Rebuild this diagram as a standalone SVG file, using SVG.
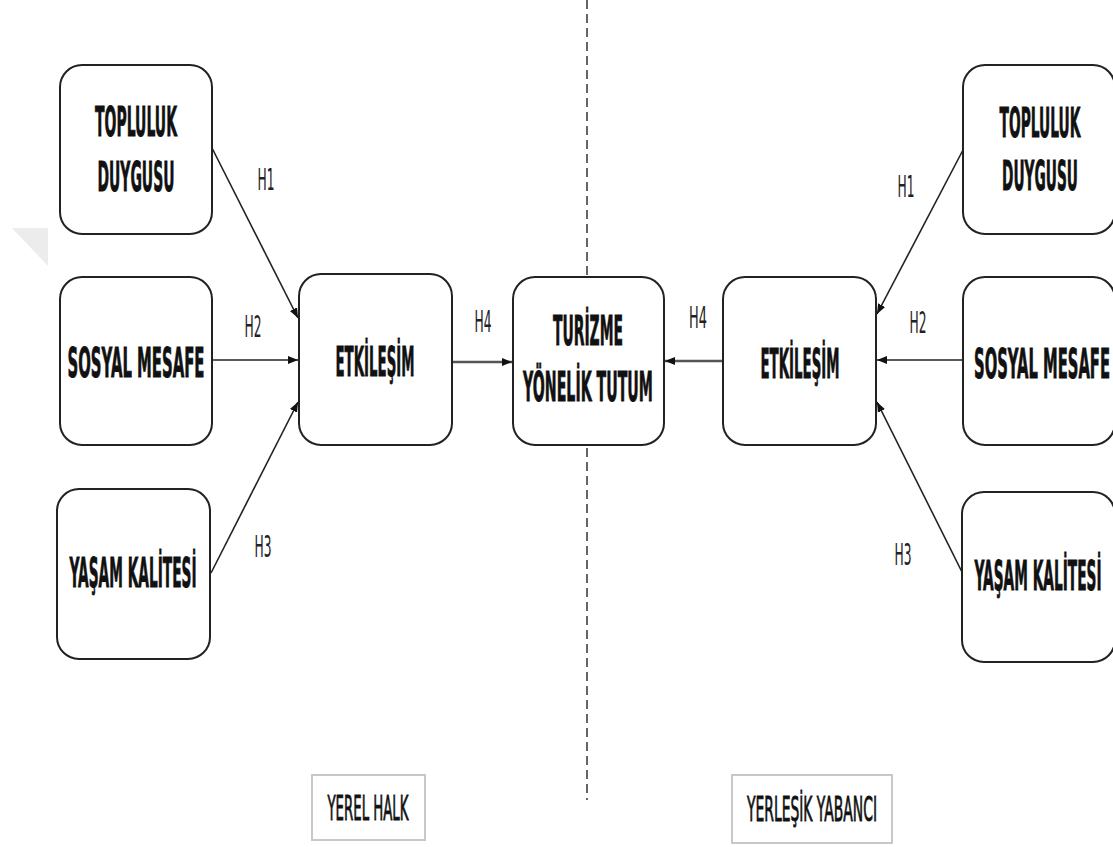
<svg xmlns="http://www.w3.org/2000/svg" width="1113" height="847" viewBox="0 0 1113 847">
<style>
.box{fill:#fff;stroke:#222;stroke-width:2}
.lbl{fill:#fff;stroke:#c8c8c8;stroke-width:2}
.t{font-family:"DejaVu Sans","Liberation Sans",sans-serif;font-weight:bold;font-size:41px;fill:#111;stroke:#111;stroke-width:0.9;text-anchor:middle}
.h{font-family:"DejaVu Sans","Liberation Sans",sans-serif;font-size:30px;fill:#222;text-anchor:middle}
.b{font-family:"DejaVu Sans","Liberation Sans",sans-serif;font-size:34px;fill:#111;stroke:#111;stroke-width:0.9;text-anchor:middle}
.c{stroke:#222;stroke-width:1.6;fill:none}
.c4{stroke:#555;stroke-width:2.6;fill:none}
</style>
<defs>
<marker id="ah" markerUnits="userSpaceOnUse" markerWidth="12" markerHeight="10" refX="10" refY="5" orient="auto">
<path d="M0,1 L10,5 L0,9 Z" fill="#111"/>
</marker>
</defs>
<rect width="1113" height="847" fill="#fff"/>
<polygon points="12,228 48,228 48,266" fill="#ececec"/>
<line x1="587" y1="0" x2="587" y2="800" stroke="#333" stroke-width="1.5" stroke-dasharray="9 5"/>
<g id="connectors">
<line class="c" x1="212" y1="148" x2="298" y2="318" marker-end="url(#ah)"/>
<line class="c" x1="212" y1="360" x2="298" y2="360" marker-end="url(#ah)"/>
<line class="c" x1="211" y1="573" x2="298" y2="402" marker-end="url(#ah)"/>
<line class="c4" x1="452" y1="362" x2="512" y2="362" marker-end="url(#ah)"/>
<line class="c" x1="963" y1="150" x2="877" y2="314" marker-end="url(#ah)"/>
<line class="c" x1="963" y1="360" x2="877" y2="360" marker-end="url(#ah)"/>
<line class="c" x1="962" y1="572" x2="877" y2="402" marker-end="url(#ah)"/>
<line class="c4" x1="723" y1="361" x2="665" y2="361" marker-end="url(#ah)"/>
<text class="h" transform="translate(266,190) scale(0.42,1)" textLength="40.5" lengthAdjust="spacingAndGlyphs">H1</text>
<text class="h" transform="translate(253,337) scale(0.42,1)" textLength="40.5" lengthAdjust="spacingAndGlyphs">H2</text>
<text class="h" transform="translate(263,557) scale(0.42,1)" textLength="40.5" lengthAdjust="spacingAndGlyphs">H3</text>
<text class="h" transform="translate(483,332) scale(0.42,1)" textLength="40.5" lengthAdjust="spacingAndGlyphs">H4</text>
<text class="h" transform="translate(698,328) scale(0.42,1)" textLength="42.8" lengthAdjust="spacingAndGlyphs">H4</text>
<text class="h" transform="translate(918,333) scale(0.42,1)" textLength="40.5" lengthAdjust="spacingAndGlyphs">H2</text>
<text class="h" transform="translate(906,197) scale(0.42,1)" textLength="40.5" lengthAdjust="spacingAndGlyphs">H1</text>
<text class="h" transform="translate(903,565) scale(0.42,1)" textLength="40.5" lengthAdjust="spacingAndGlyphs">H3</text>
</g>
<g id="l-topluluk">
<rect class="box" x="60" y="65" width="152" height="169" rx="22"/>
<text class="t" transform="translate(136,136) scale(0.32,1)" textLength="256" lengthAdjust="spacingAndGlyphs">TOPLULUK</text>
<text class="t" transform="translate(136,191) scale(0.32,1)" textLength="240.6" lengthAdjust="spacingAndGlyphs">DUYGUSU</text>
</g>
<g id="l-sosyal">
<rect class="box" x="60" y="277" width="152" height="168" rx="22"/>
<text class="t" transform="translate(136,377) scale(0.32,1)" textLength="428" lengthAdjust="spacingAndGlyphs">SOSYAL MESAFE</text>
</g>
<g id="l-yasam">
<rect class="box" x="57" y="489" width="153" height="170" rx="22"/>
<text class="t" transform="translate(133,587) scale(0.32,1)" textLength="397" lengthAdjust="spacingAndGlyphs">YAŞAM KALİTESİ</text>
</g>
<g id="l-etkilesim">
<rect class="box" x="299" y="274" width="153" height="171" rx="22"/>
<text class="t" transform="translate(375,376) scale(0.32,1)" textLength="247" lengthAdjust="spacingAndGlyphs">ETKİLEŞİM</text>
</g>
<g id="turizme">
<rect class="box" x="513" y="277" width="151" height="168" rx="22"/>
<text class="t" transform="translate(588,345) scale(0.32,1)" textLength="219" lengthAdjust="spacingAndGlyphs">TURİZME</text>
<text class="t" transform="translate(588,401) scale(0.32,1)" textLength="406" lengthAdjust="spacingAndGlyphs">YÖNELİK TUTUM</text>
</g>
<g id="r-etkilesim">
<rect class="box" x="723" y="277" width="153" height="168" rx="22"/>
<text class="t" transform="translate(800,378) scale(0.32,1)" textLength="247" lengthAdjust="spacingAndGlyphs">ETKİLEŞİM</text>
</g>
<g id="r-topluluk">
<rect class="box" x="963" y="65" width="152" height="169" rx="22"/>
<text class="t" transform="translate(1040,137) scale(0.32,1)" textLength="253" lengthAdjust="spacingAndGlyphs">TOPLULUK</text>
<text class="t" transform="translate(1040,190) scale(0.32,1)" textLength="237.5" lengthAdjust="spacingAndGlyphs">DUYGUSU</text>
</g>
<g id="r-sosyal">
<rect class="box" x="963" y="277" width="152" height="168" rx="22"/>
<text class="t" transform="translate(1042,378) scale(0.32,1)" textLength="425" lengthAdjust="spacingAndGlyphs">SOSYAL MESAFE</text>
</g>
<g id="r-yasam">
<rect class="box" x="962" y="492" width="153" height="170" rx="22"/>
<text class="t" transform="translate(1038,590) scale(0.32,1)" textLength="397" lengthAdjust="spacingAndGlyphs">YAŞAM KALİTESİ</text>
</g>
<g id="yerel-halk">
<rect class="lbl" x="312" y="775" width="113" height="65"/>
<text class="b" transform="translate(368,820) scale(0.4,1)" textLength="202.5" lengthAdjust="spacingAndGlyphs">YEREL HALK</text>
</g>
<g id="yerlesik-yabanci">
<rect class="lbl" x="732" y="775" width="160" height="68"/>
<text class="b" transform="translate(812,821) scale(0.4,1)" textLength="325" lengthAdjust="spacingAndGlyphs">YERLEŞİK YABANCI</text>
</g>
</svg>
